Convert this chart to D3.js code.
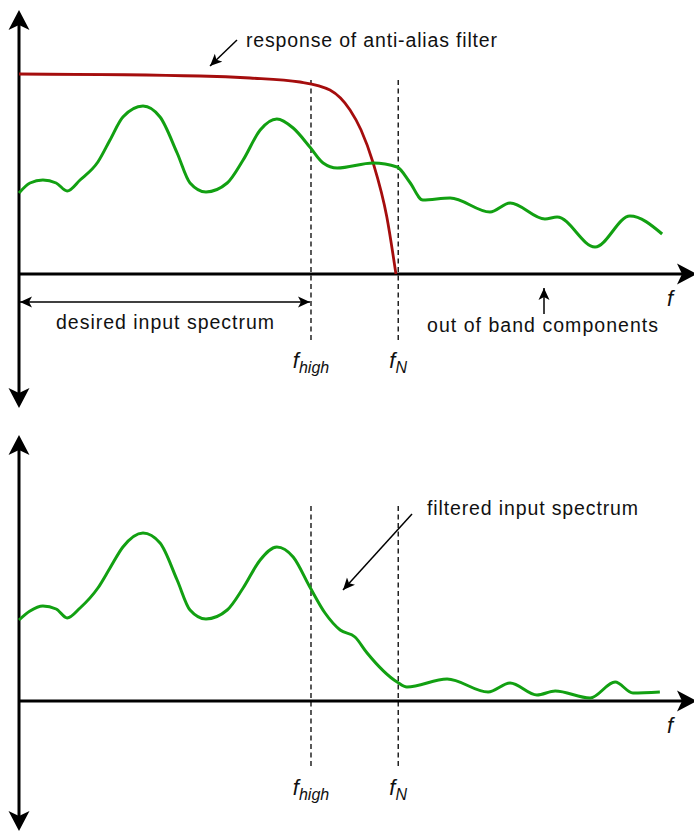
<!DOCTYPE html>
<html>
<head>
<meta charset="utf-8">
<script src="https://cdn.jsdelivr.net/npm/d3@7"></script>
<style>
  html, body { margin: 0; padding: 0; background: #fff; }
  svg { display: block; }
  text { font-family: "Liberation Sans", Arial, sans-serif; fill: #111; }
</style>
</head>
<body>
<svg id="chart" width="694" height="831"></svg>
<script>
// Frequency axis in units of the Nyquist frequency (fN = 1)
const fHigh = 0.77;
const fNyq = 1.0;
const fMax = 1.78;
const markerFreqs = [fHigh, fNyq];
const markerSubs = ["high", "N"];

// Input spectrum (unfiltered)
const inputFreq = [0, 0.029, 0.063, 0.098, 0.127, 0.161, 0.208, 0.240, 0.274, 0.327, 0.372, 0.417, 0.451, 0.493,
  0.549, 0.591, 0.636, 0.680, 0.723, 0.767, 0.802, 0.839, 0.934, 0.997, 1.030, 1.065, 1.137, 1.242, 1.295,
  1.387, 1.419, 1.519, 1.611, 1.696];
const inputAmp = [0.405, 0.455, 0.47, 0.455, 0.415, 0.47, 0.56, 0.67, 0.785, 0.84, 0.785, 0.605, 0.455, 0.41,
  0.455, 0.57, 0.72, 0.775, 0.73, 0.635, 0.555, 0.53, 0.555, 0.535, 0.46, 0.37, 0.38, 0.31, 0.355,
  0.275, 0.285, 0.135, 0.29, 0.2];

// Anti-alias filter response
const filterFreq = [0, 0.477, 0.609, 0.741, 0.820, 0.873, 0.902, 0.934, 0.970, 0.994];
const filterGain = [1.0, 0.99, 0.98, 0.96, 0.92, 0.82, 0.72, 0.555, 0.285, 0.0];

// Filtered input spectrum
const filteredFreq = [0, 0.029, 0.063, 0.098, 0.127, 0.161, 0.208, 0.240, 0.274, 0.327, 0.372, 0.417, 0.451, 0.493,
  0.549, 0.591, 0.636, 0.680, 0.723, 0.767, 0.807, 0.847, 0.886, 0.918, 0.997, 1.023, 1.129, 1.237, 1.295,
  1.366, 1.414, 1.506, 1.572, 1.619, 1.690];
const filteredAmp = [0.405, 0.45, 0.475, 0.46, 0.415, 0.465, 0.565, 0.665, 0.77, 0.84, 0.79, 0.605, 0.455, 0.41,
  0.455, 0.565, 0.705, 0.77, 0.72, 0.57, 0.44, 0.355, 0.32, 0.24, 0.095, 0.07, 0.11, 0.045, 0.09,
  0.03, 0.05, 0.015, 0.095, 0.04, 0.045];

const svg = d3.select("#chart");
const GREEN = "#12a012";
const RED = "#a50d0d";

const x = d3.scaleLinear().domain([0, fMax]).range([19, 694]);
const yTop = d3.scaleLinear().domain([0, 1]).range([274, 74]);
const yBot = d3.scaleLinear().domain([0, 1]).range([701, 501]);

// Arrowhead markers
const defs = svg.append("defs");
defs.append("marker")
  .attr("id", "head").attr("viewBox", "-12 -6 14 12")
  .attr("refX", 0).attr("refY", 0)
  .attr("markerWidth", 14).attr("markerHeight", 12)
  .attr("markerUnits", "userSpaceOnUse")
  .attr("orient", "auto-start-reverse")
  .append("path").attr("d", "M0,0 L-12,-5.5 L-9,0 L-12,5.5 Z").attr("fill", "#000");

// Big concave arrowhead for the axes, tip at (tx,ty), pointing at angle (deg, 0 = up)
function axisHead(g, tx, ty, angle) {
  g.append("path")
    .attr("d", "M0,0 L10.5,20 L0,15 L-10.5,20 Z")
    .attr("transform", `translate(${tx},${ty}) rotate(${angle})`)
    .attr("fill", "#000");
}

// Annotation text with a fixed overall width
function note(g, str, xLeft, y, width) {
  return g.append("text").attr("x", xLeft).attr("y", y).attr("font-size", 19.5)
    .attr("textLength", width).attr("lengthAdjust", "spacing").text(str);
}

function drawPanel(yScale, yTopTip, yBotTip, dashTop, dashBot, labelY) {
  const g = svg.append("g");
  const x0 = x(0), y0 = yScale(0);
  // vertical axis
  g.append("line").attr("x1", x0).attr("x2", x0).attr("y1", yTopTip + 10).attr("y2", yBotTip - 10)
    .attr("stroke", "#000").attr("stroke-width", 3);
  axisHead(g, x0, yTopTip, 0);
  axisHead(g, x0, yBotTip, 180);
  // horizontal axis
  g.append("line").attr("x1", x0).attr("x2", 686).attr("y1", y0).attr("y2", y0)
    .attr("stroke", "#000").attr("stroke-width", 3);
  axisHead(g, 697, y0, 90);
  g.append("text").attr("x", 670).attr("y", y0 + 32)
    .attr("text-anchor", "middle").attr("font-style", "italic").attr("font-size", 22).text("f");

  // frequency markers
  markerFreqs.forEach((f, i) => {
    g.append("line").attr("x1", x(f)).attr("x2", x(f)).attr("y1", dashTop).attr("y2", dashBot)
      .attr("stroke", "#000").attr("stroke-width", 1.3).attr("stroke-dasharray", "5,3.5");
    const t = g.append("text").attr("x", x(f)).attr("y", labelY)
      .attr("text-anchor", "middle").attr("font-style", "italic").attr("font-size", 22);
    t.append("tspan").text("f");
    t.append("tspan").attr("font-size", 16).attr("dy", 5).text(markerSubs[i]);
  });
  return g;
}

const line = (yScale) => d3.line().x(d => x(d[0])).y(d => yScale(d[1])).curve(d3.curveMonotoneX);

// ---- Upper panel: input spectrum and filter response ----
const upper = drawPanel(yTop, 10, 408, 80, 340, 368);
upper.append("path").datum(d3.zip(filterFreq, filterGain))
  .attr("d", line(yTop)).attr("fill", "none").attr("stroke", RED).attr("stroke-width", 2.8);
upper.append("path").datum(d3.zip(inputFreq, inputAmp))
  .attr("d", line(yTop)).attr("fill", "none").attr("stroke", GREEN).attr("stroke-width", 3);

note(upper, "response of anti-alias filter", 246, 47, 251);
upper.append("line").attr("x1", 237).attr("y1", 40).attr("x2", 210).attr("y2", 66)
  .attr("stroke", "#000").attr("stroke-width", 1.5).attr("marker-end", "url(#head)");

upper.append("line").attr("x1", x(0) + 1).attr("x2", x(fHigh) - 1).attr("y1", 302).attr("y2", 302)
  .attr("stroke", "#000").attr("stroke-width", 1.5)
  .attr("marker-start", "url(#head)").attr("marker-end", "url(#head)");
note(upper, "desired input spectrum", 56, 329, 218);

upper.append("line").attr("x1", 544).attr("x2", 544).attr("y1", 314).attr("y2", 288)
  .attr("stroke", "#000").attr("stroke-width", 1.5).attr("marker-end", "url(#head)");
note(upper, "out of band components", 427, 332, 231);

// ---- Lower panel: filtered spectrum ----
const lower = drawPanel(yBot, 435, 831, 506, 768, 795);
lower.append("path").datum(d3.zip(filteredFreq, filteredAmp))
  .attr("d", line(yBot)).attr("fill", "none").attr("stroke", GREEN).attr("stroke-width", 3);

note(lower, "filtered input spectrum", 427, 515, 211);
lower.append("line").attr("x1", 412).attr("y1", 514).attr("x2", 343).attr("y2", 590)
  .attr("stroke", "#000").attr("stroke-width", 1.5).attr("marker-end", "url(#head)");
</script>
</body>
</html>
